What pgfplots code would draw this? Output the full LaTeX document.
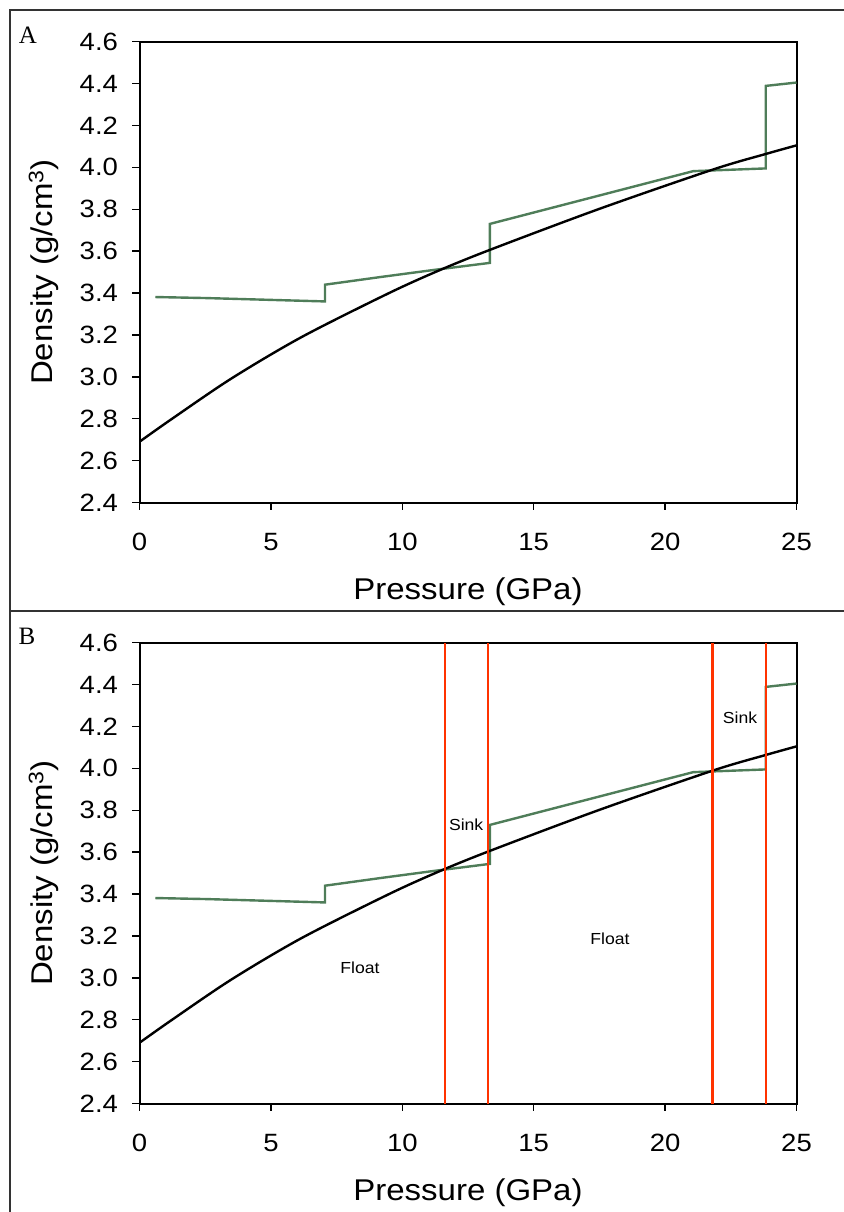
\documentclass[border=0pt]{standalone}
\usepackage{fontspec}
\setmainfont{Liberation Sans}[FakeStretch=1.1]
\newfontfamily\serif{Liberation Serif}
\usepackage{pgfplots}
\usepackage{pgfplotstable}
\pgfplotsset{compat=1.18}

\definecolor{grn}{RGB}{79,125,89}
\definecolor{redl}{RGB}{255,51,0}
\definecolor{framec}{RGB}{51,51,51}

\pgfplotstableread{
x y
0 2.690
1.23 2.799
3.51 2.993
6.17 3.190
9.48 3.399
11.4 3.508
13.33 3.606
17.5 3.802
21.83 3.990
23.83 4.064
25 4.105
}\blackdata

\pgfplotstableread{
x y
0.6 3.381
2.56 3.376
7.06 3.360
7.06 3.440
9.2 3.477
11.24 3.511
13.33 3.544
13.33 3.730
21.07 3.982
23.83 3.995
23.83 4.389
25 4.405
}\greendata

\pgfplotsset{myaxis/.style={
  scale only axis, width=657pt, height=460.8pt,
  xmin=0, xmax=25, ymin=2.4, ymax=4.6,
  xtick={0,5,10,15,20,25},
  ytick={2.4,2.6,2.8,3.0,3.2,3.4,3.6,3.8,4.0,4.2,4.4,4.6},
  tick align=outside, xtick pos=bottom, ytick pos=left,
  major tick length=7pt,
  tick style={black, line width=1.5pt},
  axis line style={black, line width=2pt},
  ticklabel style={font=\fontsize{25}{30}\selectfont},
  /pgf/number format/assume math mode=true,
  yticklabel style={xshift=-11pt, /pgf/number format/.cd, fixed, fixed zerofill, precision=1},
  xticklabel style={yshift=-20pt, /pgf/number format/.cd, fixed, precision=0},
  label style={font=\fontsize{30}{36}\selectfont},
  xlabel={Pressure (GPa)},
  ylabel={Density (g/cm\raisebox{0.55ex}{\fontsize{21}{24}\selectfont 3})},
  xlabel style={at={(axis description cs:0.5,-0.193)}, anchor=center},
  ylabel style={at={(axis description cs:-0.146,0.5)}, anchor=center},
  clip=true,
}}

\begin{document}
\begin{tikzpicture}[x=1pt,y=1pt]
\path[use as bounding box] (0,0) rectangle (843,-1212);

% panel frames
\draw[framec, line width=2pt] (9.5,-1220) -- (9.5,-10) -- (850,-10);
\draw[framec, line width=2pt] (9.5,-611) -- (850,-611);
\node[font=\serif\fontsize{25}{30}\selectfont] at (28,-35) {A};
\node[font=\serif\fontsize{25}{30}\selectfont] at (27,-636) {B};

\begin{axis}[myaxis, at={(139.5pt,-502.5pt)}, anchor=south west]
\addplot[grn, line width=2.4pt] table[x=x,y=y] {\greendata};
\addplot[black, line width=2.4pt, smooth] table[x=x,y=y] {\blackdata};
\end{axis}

\begin{axis}[myaxis, at={(139.5pt,-1103.5pt)}, anchor=south west]
\addplot[grn, line width=2.4pt] table[x=x,y=y] {\greendata};
\addplot[black, line width=2.4pt, smooth] table[x=x,y=y] {\blackdata};
\addplot[redl, line width=2.4pt] coordinates {(11.62,2.4) (11.62,4.6)};
\addplot[redl, line width=2.4pt] coordinates {(13.26,2.4) (13.26,4.6)};
\addplot[redl, line width=2.4pt] coordinates {(21.8,2.4) (21.8,4.6)};
\addplot[redl, line width=2.4pt] coordinates {(23.84,2.4) (23.84,4.6)};
\node[font=\fontsize{16}{19}\selectfont] at (axis cs:8.39,3.05) {Float};
\node[font=\fontsize{16}{19}\selectfont] at (axis cs:17.9,3.185) {Float};
\node[font=\fontsize{16}{19}\selectfont] at (axis cs:12.43,3.73) {Sink};
\node[font=\fontsize{16}{19}\selectfont] at (axis cs:22.85,4.24) {Sink};
\end{axis}
\end{tikzpicture}
\end{document}
